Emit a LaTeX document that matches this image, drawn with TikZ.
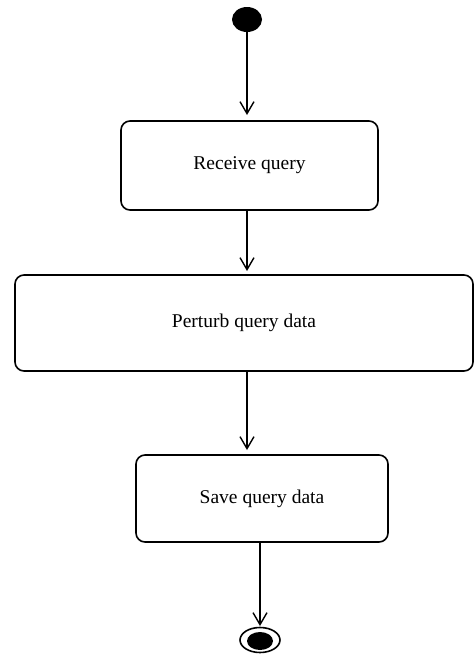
\documentclass[tikz,border=0pt]{standalone}
\usepackage{fontspec}
\setmainfont{Liberation Serif}
\usetikzlibrary{arrows.meta,shapes.geometric}
\begin{document}
\begin{tikzpicture}[x=1pt,y=-1pt,
  actbox/.style={draw=black,line width=1.6pt,rounded corners=9pt,inner sep=0pt,
    font=\fontsize{19.5}{23}\selectfont},
  flow/.style={line width=1.4pt,-{Straight Barb[length=12pt,width=14pt,line width=1.4pt]}},
]
\useasboundingbox (0,0) rectangle (474,656);
\node[fill=black,ellipse,minimum width=30pt,minimum height=25pt,inner sep=0pt] (start) at (247,19.5) {};
\node[actbox,minimum width=257pt,minimum height=89pt] (recv) at (249.5,165.5) {Receive query};
\node[actbox,minimum width=458pt,minimum height=96pt] (pert) at (244,323) {Perturb query data};
\node[actbox,minimum width=252pt,minimum height=87pt] (save) at (262,498.5) {Save query data};
\node[draw=black,line width=1.6pt,ellipse,minimum width=40pt,minimum height=25pt,inner sep=0pt] (endout) at (260,640) {};
\node[fill=black,ellipse,minimum width=26pt,minimum height=18pt,inner sep=0pt] (end) at (260,641) {};
\coordinate (e1) at (247,115);
\coordinate (e2) at (247,271);
\coordinate (e3) at (247,450);
\coordinate (e4) at (260,626);
\draw[flow] (start.south) -- (e1);
\draw[flow] (recv.south -| e2) -- (e2);
\draw[flow] (pert.south -| e3) -- (e3);
\draw[flow] (save.south -| e4) -- (e4);
\end{tikzpicture}
\end{document}
